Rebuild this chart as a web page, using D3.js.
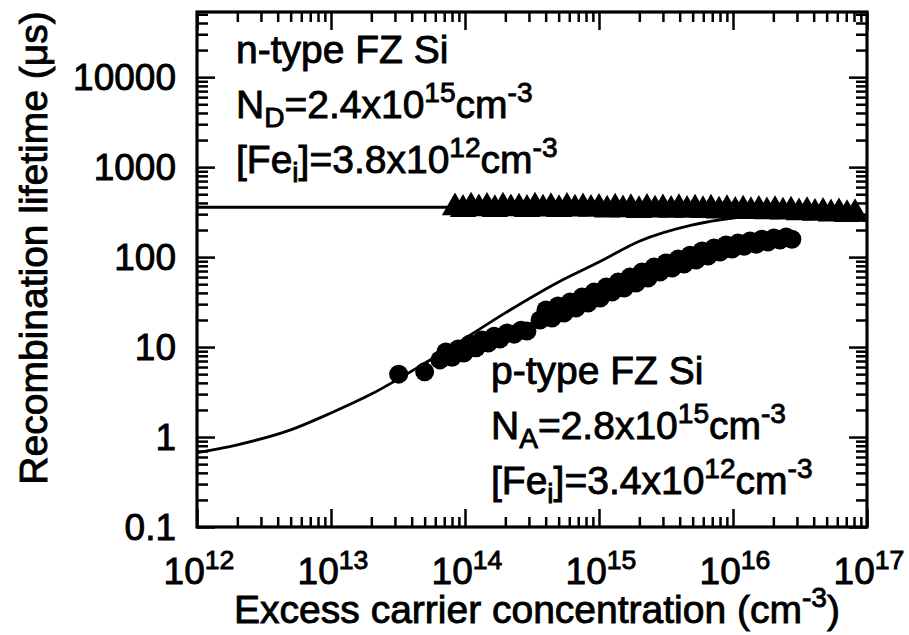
<!DOCTYPE html>
<html>
<head>
<meta charset="utf-8">
<script src="https://cdn.jsdelivr.net/npm/d3@7"></script>
<style>
body { margin: 0; background: #fff; }
text { font-family: "Liberation Sans", Arial, sans-serif; fill: #000; stroke: #000; stroke-width: 0.9px; }
</style>
</head>
<body>
<svg id="chart" width="909" height="635"></svg>
<script>
// tick labels
var xTickExp = [12, 13, 14, 15, 16, 17];
var yTickValues = [0.1, 1, 10, 100, 1000, 10000];
var yTickLabels = ["0.1", "1", "10", "100", "1000", "10000"];

// model curves
var nLineX = [1e12, 1e13, 1e14, 1e15, 3e15, 1e16, 3e16, 1e17];
var nLineTau = [358, 358, 358, 355, 350, 335, 305, 255];

var pLineX = [1e12, 2e12, 5e12, 1e13, 2e13, 5e13, 1e14, 2e14, 5e14, 1e15, 2e15, 5e15, 1e16, 2e16, 5e16, 1e17];
var pLineTau = [0.67, 0.82, 1.2, 1.85, 3.0, 6.6, 12.5, 24, 53, 88, 150, 228, 272, 295, 280, 252];

// n-type measured lifetime (triangles)
var nDataX = [8.42e13, 9.66e13, 1.11e14, 1.27e14, 1.46e14, 1.67e14, 1.92e14, 2.20e14, 2.53e14, 2.90e14,
    3.33e14, 3.82e14, 4.38e14, 5.03e14, 5.77e14, 6.62e14, 7.60e14, 8.71e14, 1.0e15, 1.15e15,
    1.32e15, 1.51e15, 1.73e15, 1.99e15, 2.28e15, 2.62e15, 3.00e15, 3.45e15, 3.95e15, 4.54e15,
    5.21e15, 5.97e15, 6.85e15, 7.87e15, 9.02e15, 1.04e16, 1.19e16, 1.36e16, 1.56e16, 1.79e16,
    2.06e16, 2.36e16, 2.71e16, 3.11e16, 3.57e16, 4.09e16, 4.70e16, 5.39e16, 6.18e16, 7.10e16, 8.14e16];
var nDataTau = [355, 340, 362, 345, 358, 338, 360, 346, 352, 340, 361, 343, 356, 339, 358, 344, 353, 341,
    350, 334, 352, 336, 348, 331, 350, 335, 346, 332, 348, 333, 344,
    330, 342, 326, 338, 324, 335, 322, 333, 320, 330,
    318, 326, 312, 322, 308, 316, 303, 312, 298, 305];

// p-type measured lifetime, low injection set
var pLowX = [3.2e13, 5.0e13, 6.5e13, 7.2e13, 8.0e13, 8.9e13, 9.8e13, 1.09e14, 1.21e14, 1.34e14,
    1.49e14, 1.65e14, 1.82e14, 2.06e14, 2.32e14, 2.62e14, 2.90e14];
var pLowTau = [5.0, 5.3, 7.2, 8.8, 7.7, 9.5, 8.6, 10.8, 9.8, 12.0, 11.1, 13.2, 12.3, 14.3, 13.9, 15.4, 15.1];

// p-type measured lifetime, high injection set
var pHighX = [3.63e14, 4.02e14, 4.46e14, 4.94e14, 5.48e14, 6.08e14, 6.73e14, 7.47e14, 8.28e14, 9.18e14,
    1.02e15, 1.13e15, 1.25e15, 1.39e15, 1.54e15, 1.70e15, 1.89e15, 2.09e15, 2.32e15, 2.57e15,
    2.85e15, 3.16e15, 3.51e15, 3.89e15, 4.31e15, 4.78e15, 5.30e15, 5.87e15, 6.51e15, 7.22e15,
    8.00e15, 8.87e15, 9.84e15, 1.09e16, 1.21e16, 1.34e16, 1.49e16, 1.64e16, 1.82e16, 2.02e16,
    2.24e16, 2.49e16, 2.75e16];
var pHighTau = [20.0, 25.8, 21.0, 28.6, 23.9, 31.6, 27.1, 35.9, 30.8, 40.8, 35.0, 46.4, 40.8, 52.7, 45.2,
    59.9, 51.4, 68.1, 58.4, 77.4, 68.1, 85.8, 75.5, 95.0, 83.6, 105, 92.6, 117, 103, 126, 114, 136,
    123, 143, 132, 151, 139, 158, 147, 163, 155, 167, 158];

// annotation texts: [text, "n" | "sub" | "sup"]
var nNote = [
    [["n-type FZ Si", "n"]],
    [["N", "n"], ["D", "sub"], ["=2.4x10", "n"], ["15", "sup"], ["cm", "n"], ["-3", "sup"]],
    [["[Fe", "n"], ["i", "sub"], ["]=3.8x10", "n"], ["12", "sup"], ["cm", "n"], ["-3", "sup"]]
];
var pNote = [
    [["p-type FZ Si", "n"]],
    [["N", "n"], ["A", "sub"], ["=2.8x10", "n"], ["15", "sup"], ["cm", "n"], ["-3", "sup"]],
    [["[Fe", "n"], ["i", "sub"], ["]=3.4x10", "n"], ["12", "sup"], ["cm", "n"], ["-3", "sup"]]
];
var xTitle = [["Excess carrier concentration (cm", "n"], ["-3", "sup"], [")", "n"]];
var yTitle = "Recombination lifetime (\u03bcs)";

var svg = d3.select("#chart");
var pLeft = 197, pRight = 867, pTop = 12, pBottom = 527;
var fs = 37, fsText = 39;

var x = d3.scaleLog().domain([1e12, 1e17]).range([pLeft, pRight]);
var y = d3.scaleLog().domain([0.1, 5.3e4]).range([pBottom, pTop]);

function rich(t, parts, size) {
    var cur = 0;
    parts.forEach(function(p) {
        var off = p[1] == "sup" ? -0.4 * size : (p[1] == "sub" ? 0.22 * size : 0);
        t.append("tspan")
            .attr("dy", off - cur)
            .style("font-size", (p[1] == "n" ? size : size * 0.72) + "px")
            .text(p[0]);
        cur = off;
    });
}

// ticks on all four sides
var xMajor = xTickExp.map(function(e) { return Math.pow(10, e); });
var xMinor = x.ticks().filter(function(v) { return xMajor.indexOf(v) < 0; });
var yMinor = y.ticks().filter(function(v) { return yTickValues.indexOf(v) < 0 && v < 5.3e4; });

function ticks(axis, tr, vals, len) {
    var g = svg.append("g").attr("transform", tr)
        .call(axis.tickValues(vals).tickSize(-len).tickSizeOuter(0).tickFormat(""));
    g.select(".domain").remove();
    g.selectAll("line").attr("stroke", "#000").attr("stroke-width", 2.5);
}
ticks(d3.axisBottom(x), "translate(0," + pBottom + ")", xMajor, 18);
ticks(d3.axisBottom(x), "translate(0," + pBottom + ")", xMinor, 10);
ticks(d3.axisTop(x), "translate(0," + pTop + ")", xMajor, 18);
ticks(d3.axisTop(x), "translate(0," + pTop + ")", xMinor, 10);
ticks(d3.axisLeft(y), "translate(" + pLeft + ",0)", yTickValues, 18);
ticks(d3.axisLeft(y), "translate(" + pLeft + ",0)", yMinor, 11);
ticks(d3.axisRight(y), "translate(" + pRight + ",0)", yTickValues, 18);
ticks(d3.axisRight(y), "translate(" + pRight + ",0)", yMinor, 11);

// curves
var line = d3.line()
    .x(function(d) { return x(d[0]); })
    .y(function(d) { return y(d[1]); })
    .curve(d3.curveMonotoneX);

svg.append("path")
    .datum(d3.zip(nLineX, nLineTau))
    .attr("d", line)
    .attr("fill", "none").attr("stroke", "#000").attr("stroke-width", 2.8);
svg.append("path")
    .datum(d3.zip(pLineX, pLineTau))
    .attr("d", line)
    .attr("fill", "none").attr("stroke", "#000").attr("stroke-width", 2.8);

// markers
svg.append("g").selectAll("path")
    .data(d3.zip(nDataX, nDataTau))
    .enter().append("path")
    .attr("d", d3.symbol().type(d3.symbolTriangle).size(300))
    .attr("transform", function(d) { return "translate(" + x(d[0]) + "," + y(d[1]) + ")"; })
    .attr("fill", "#000");

svg.append("g").selectAll("circle")
    .data(d3.zip(pLowX, pLowTau).concat(d3.zip(pHighX, pHighTau)))
    .enter().append("circle")
    .attr("cx", function(d) { return x(d[0]); })
    .attr("cy", function(d) { return y(d[1]); })
    .attr("r", 9.5)
    .attr("fill", "#000");

// frame
svg.append("rect")
    .attr("x", pLeft).attr("y", pTop)
    .attr("width", pRight - pLeft).attr("height", pBottom - pTop)
    .attr("fill", "none").attr("stroke", "#000").attr("stroke-width", 3.2);

// tick labels
svg.append("g").selectAll("text")
    .data(yTickValues)
    .enter().append("text")
    .attr("x", 176)
    .attr("y", function(d) { return y(d) + 13; })
    .attr("text-anchor", "end")
    .style("font-size", fs + "px")
    .text(function(d, i) { return yTickLabels[i]; });

xTickExp.forEach(function(e, i) {
    var t = svg.append("text")
        .attr("x", x(xMajor[i]) + 2)
        .attr("y", 584)
        .attr("text-anchor", "middle")
        .style("font-size", fs + "px");
    rich(t, [["10", "n"], [String(e), "sup"]], fs);
});

// axis titles
var xt = svg.append("text")
    .attr("x", 537).attr("y", 623)
    .attr("text-anchor", "middle")
    .style("font-size", fsText + "px");
rich(xt, xTitle, fsText);

svg.append("text")
    .attr("transform", "translate(47,248) rotate(-90)")
    .attr("text-anchor", "middle")
    .style("font-size", fsText + "px")
    .text(yTitle);

// annotations
function note(lines, x0, y0) {
    lines.forEach(function(parts, i) {
        var t = svg.append("text")
            .attr("x", x0).attr("y", y0 + i * 55)
            .style("font-size", fsText + "px");
        rich(t, parts, fsText);
    });
}
note(nNote, 236, 63);
note(pNote, 491, 384);
</script>
</body>
</html>
